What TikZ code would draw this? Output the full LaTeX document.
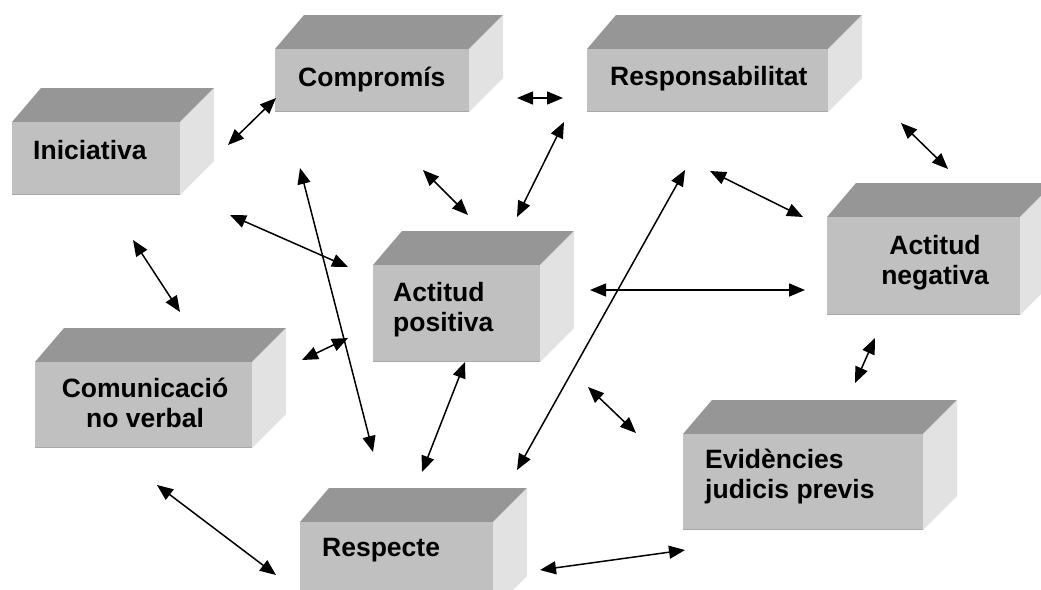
\documentclass[tikz,border=0pt]{standalone}
\usepackage{fontspec}
\setmainfont{Liberation Sans}
\usetikzlibrary{arrows.meta}
\definecolor{topc}{RGB}{150,150,150}
\definecolor{frontc}{RGB}{192,192,192}
\definecolor{sidec}{RGB}{226,226,226}
\definecolor{edgec}{RGB}{168,168,168}
% #1 x1, #2 y1 (top-left of front face), #3 x2, #4 y2 (bottom-right)
\newcommand{\mycuboid}[4]{%
  \fill[topc] (#1,#2) -- (#1+29,#2-34) -- (#3+34,#2-34) -- (#3,#2) -- cycle;
  \fill[sidec] (#3,#2) -- (#3+34,#2-34) -- (#3+34,#4-34) -- (#3,#4) -- cycle;
  \fill[frontc] (#1,#2) rectangle (#3,#4);
  \draw[edgec, line width=1.5pt] (#1,#4-0.75) -- (#3,#4-0.75);
}
\tikzset{
  lbl/.style={font=\fontsize{26.5}{30}\selectfont\bfseries, inner sep=0pt, text=black},
  conn/.style={line width=1.5pt, {Triangle[length=16pt,width=13pt]}-{Triangle[length=16pt,width=13pt]}}
}
\begin{document}
\begin{tikzpicture}[x=1pt,y=-1pt]
\useasboundingbox (0,0) rectangle (1041,589);
\clip (0,0) rectangle (1041,589);
\fill[white] (0,0) rectangle (1041,589);

% boxes
\mycuboid{12}{122}{180}{195}
\mycuboid{275}{49}{469}{112}
\mycuboid{587}{49}{828}{112}
\mycuboid{373}{265}{540}{362}
\mycuboid{827}{217}{1020}{315}
\mycuboid{35}{362}{252}{448}
\mycuboid{683}{434}{923}{530}
\mycuboid{300}{522}{493}{610}

% labels (for two-line labels the base anchor is the last line's baseline)
\node[lbl, anchor=base west] (ini) at (33,159) {Iniciativa};
\node[lbl, anchor=base west] (comp) at (298,86) {Compromís};
\node[lbl, anchor=base west] (resp) at (610,85) {Responsabilitat};
\node[lbl, anchor=base west, align=left] (ap) at (393,331) {Actitud\\positiva};
\node[lbl, anchor=base, align=center] (an) at (935,284) {Actitud\\negativa};
\node[lbl, anchor=base, align=center] (com) at (145,427) {Comunicació\\no verbal};
\node[lbl, anchor=base west, align=left] (ev) at (705,498) {Evidències\\judicis previs};
\node[lbl, anchor=base west] (res) at (322,556) {Respecte};

% connector end points
\coordinate (p1a) at (228,145);  \coordinate (p1b) at (276,98);
\coordinate (p2a) at (517,98);   \coordinate (p2b) at (563,98);
\coordinate (p3a) at (564,122);  \coordinate (p3b) at (517,217);
\coordinate (p4a) at (685,170);  \coordinate (p4b) at (517,470);
\coordinate (p5a) at (710,171);  \coordinate (p5b) at (803,217);
\coordinate (p6a) at (901,123);  \coordinate (p6b) at (948,169);
\coordinate (p7a) at (423,170);  \coordinate (p7b) at (468,215);
\coordinate (p8a) at (230,215);  \coordinate (p8b) at (348,267);
\coordinate (p9a) at (300,168);  \coordinate (p9b) at (373,452);
\coordinate (p10a) at (133,240); \coordinate (p10b) at (180,312);
\coordinate (p11a) at (302,360); \coordinate (p11b) at (348,338);
\coordinate (p12a) at (590,290); \coordinate (p12b) at (805,290);
\coordinate (p13a) at (465,362); \coordinate (p13b) at (422,472);
\coordinate (p14a) at (588,387); \coordinate (p14b) at (636,433);
\coordinate (p15a) at (875,338); \coordinate (p15b) at (855,383);
\coordinate (p16a) at (157,485); \coordinate (p16b) at (276,575);
\coordinate (p17a) at (540,570); \coordinate (p17b) at (685,550);

\foreach \i in {1,...,17} {\draw[conn] (p\i a) -- (p\i b);}
\end{tikzpicture}
\end{document}
